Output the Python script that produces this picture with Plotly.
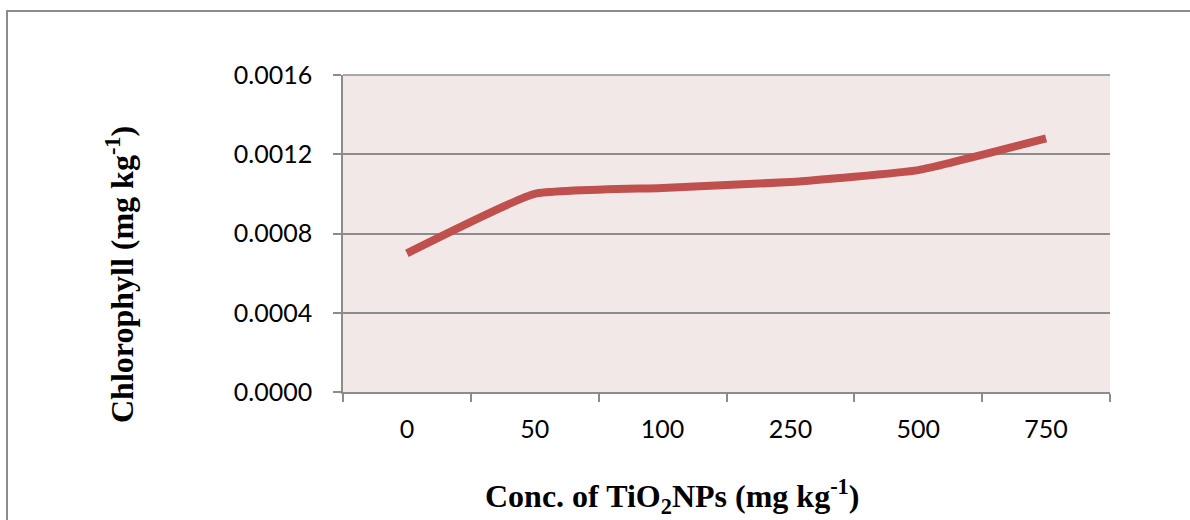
import plotly.graph_objects as go

categories = ["0", "50", "100", "250", "500", "750"]
chlorophyll = [0.00070, 0.00100, 0.00103, 0.00106, 0.00112, 0.00128]
y_ticks = [0.0, 0.0004, 0.0008, 0.0012, 0.0016]
y_tick_labels = ["0.0000", "0.0004", "0.0008", "0.0012", "0.0016"]

fig = go.Figure()
fig.add_trace(go.Scatter(
    x=categories, y=chlorophyll, mode="lines",
    line=dict(color="#C0504D", width=8, shape="spline", smoothing=0.4),
    hoverinfo="skip", showlegend=False,
))

L, R, T, B = 343, 80, 75, 128
W, H = 1190, 520
pw, ph = W - L - R, H - T - B

def px_x(px):
    return (px - L) / pw

def px_y(py):
    return (H - B - py) / ph

tick_font = dict(family="Lato", size=25, color="black")
title_font = dict(family="Liberation Serif", size=32, color="black")

fig.update_layout(
    width=W, height=H,
    margin=dict(l=L, r=R, t=T, b=B, pad=0),
    paper_bgcolor="white",
    plot_bgcolor="#F2E8E8",
    font=dict(family="Lato", size=25, color="black"),
    xaxis=dict(
        type="category", tickson="boundaries", ticks="outside", ticklen=8,
        tickcolor="#8C8C8C", tickwidth=1.5, showline=True, linecolor="#8C8C8C",
        linewidth=1.5, showgrid=False, zeroline=False, ticklabelstandoff=14,
        tickfont=tick_font,
        range=[-0.5, 5.5],
    ),
    yaxis=dict(
        range=[0, 0.0016], tickvals=y_ticks, ticktext=y_tick_labels,
        ticks="outside", ticklen=8, tickcolor="#8C8C8C", tickwidth=1.5,
        showline=True, linecolor="#8C8C8C", linewidth=1.5,
        showgrid=True, gridcolor="#8C8C8C", gridwidth=1.5, zeroline=False,
        ticklabelstandoff=16,
        tickfont=tick_font,
    ),
    shapes=[dict(
        type="rect", xref="paper", yref="paper",
        x0=px_x(7), x1=px_x(1195), y0=px_y(530), y1=px_y(11),
        line=dict(color="#8C8C8C", width=2), fillcolor="rgba(0,0,0,0)", layer="below",
    ), dict(
        type="line", xref="paper", yref="paper",
        x0=0, x1=1, y0=1, y1=1, line=dict(color="#8C8C8C", width=1.5),
    )],
    annotations=[
        dict(
            text="<b>Chlorophyll (mg kg<sup>-1</sup>)</b>", textangle=-90,
            xref="paper", yref="paper", x=px_x(120), y=px_y(275),
            showarrow=False, xanchor="center", yanchor="middle",
            font=title_font,
        ),
        dict(
            text="<b>Conc. of TiO<sub>2</sub>NPs (mg kg<sup>-1</sup>)</b>",
            xref="paper", yref="paper", x=px_x(672), y=px_y(496),
            showarrow=False, xanchor="center", yanchor="middle",
            font=title_font,
        ),
    ],
)

fig.write_html("out.html")
